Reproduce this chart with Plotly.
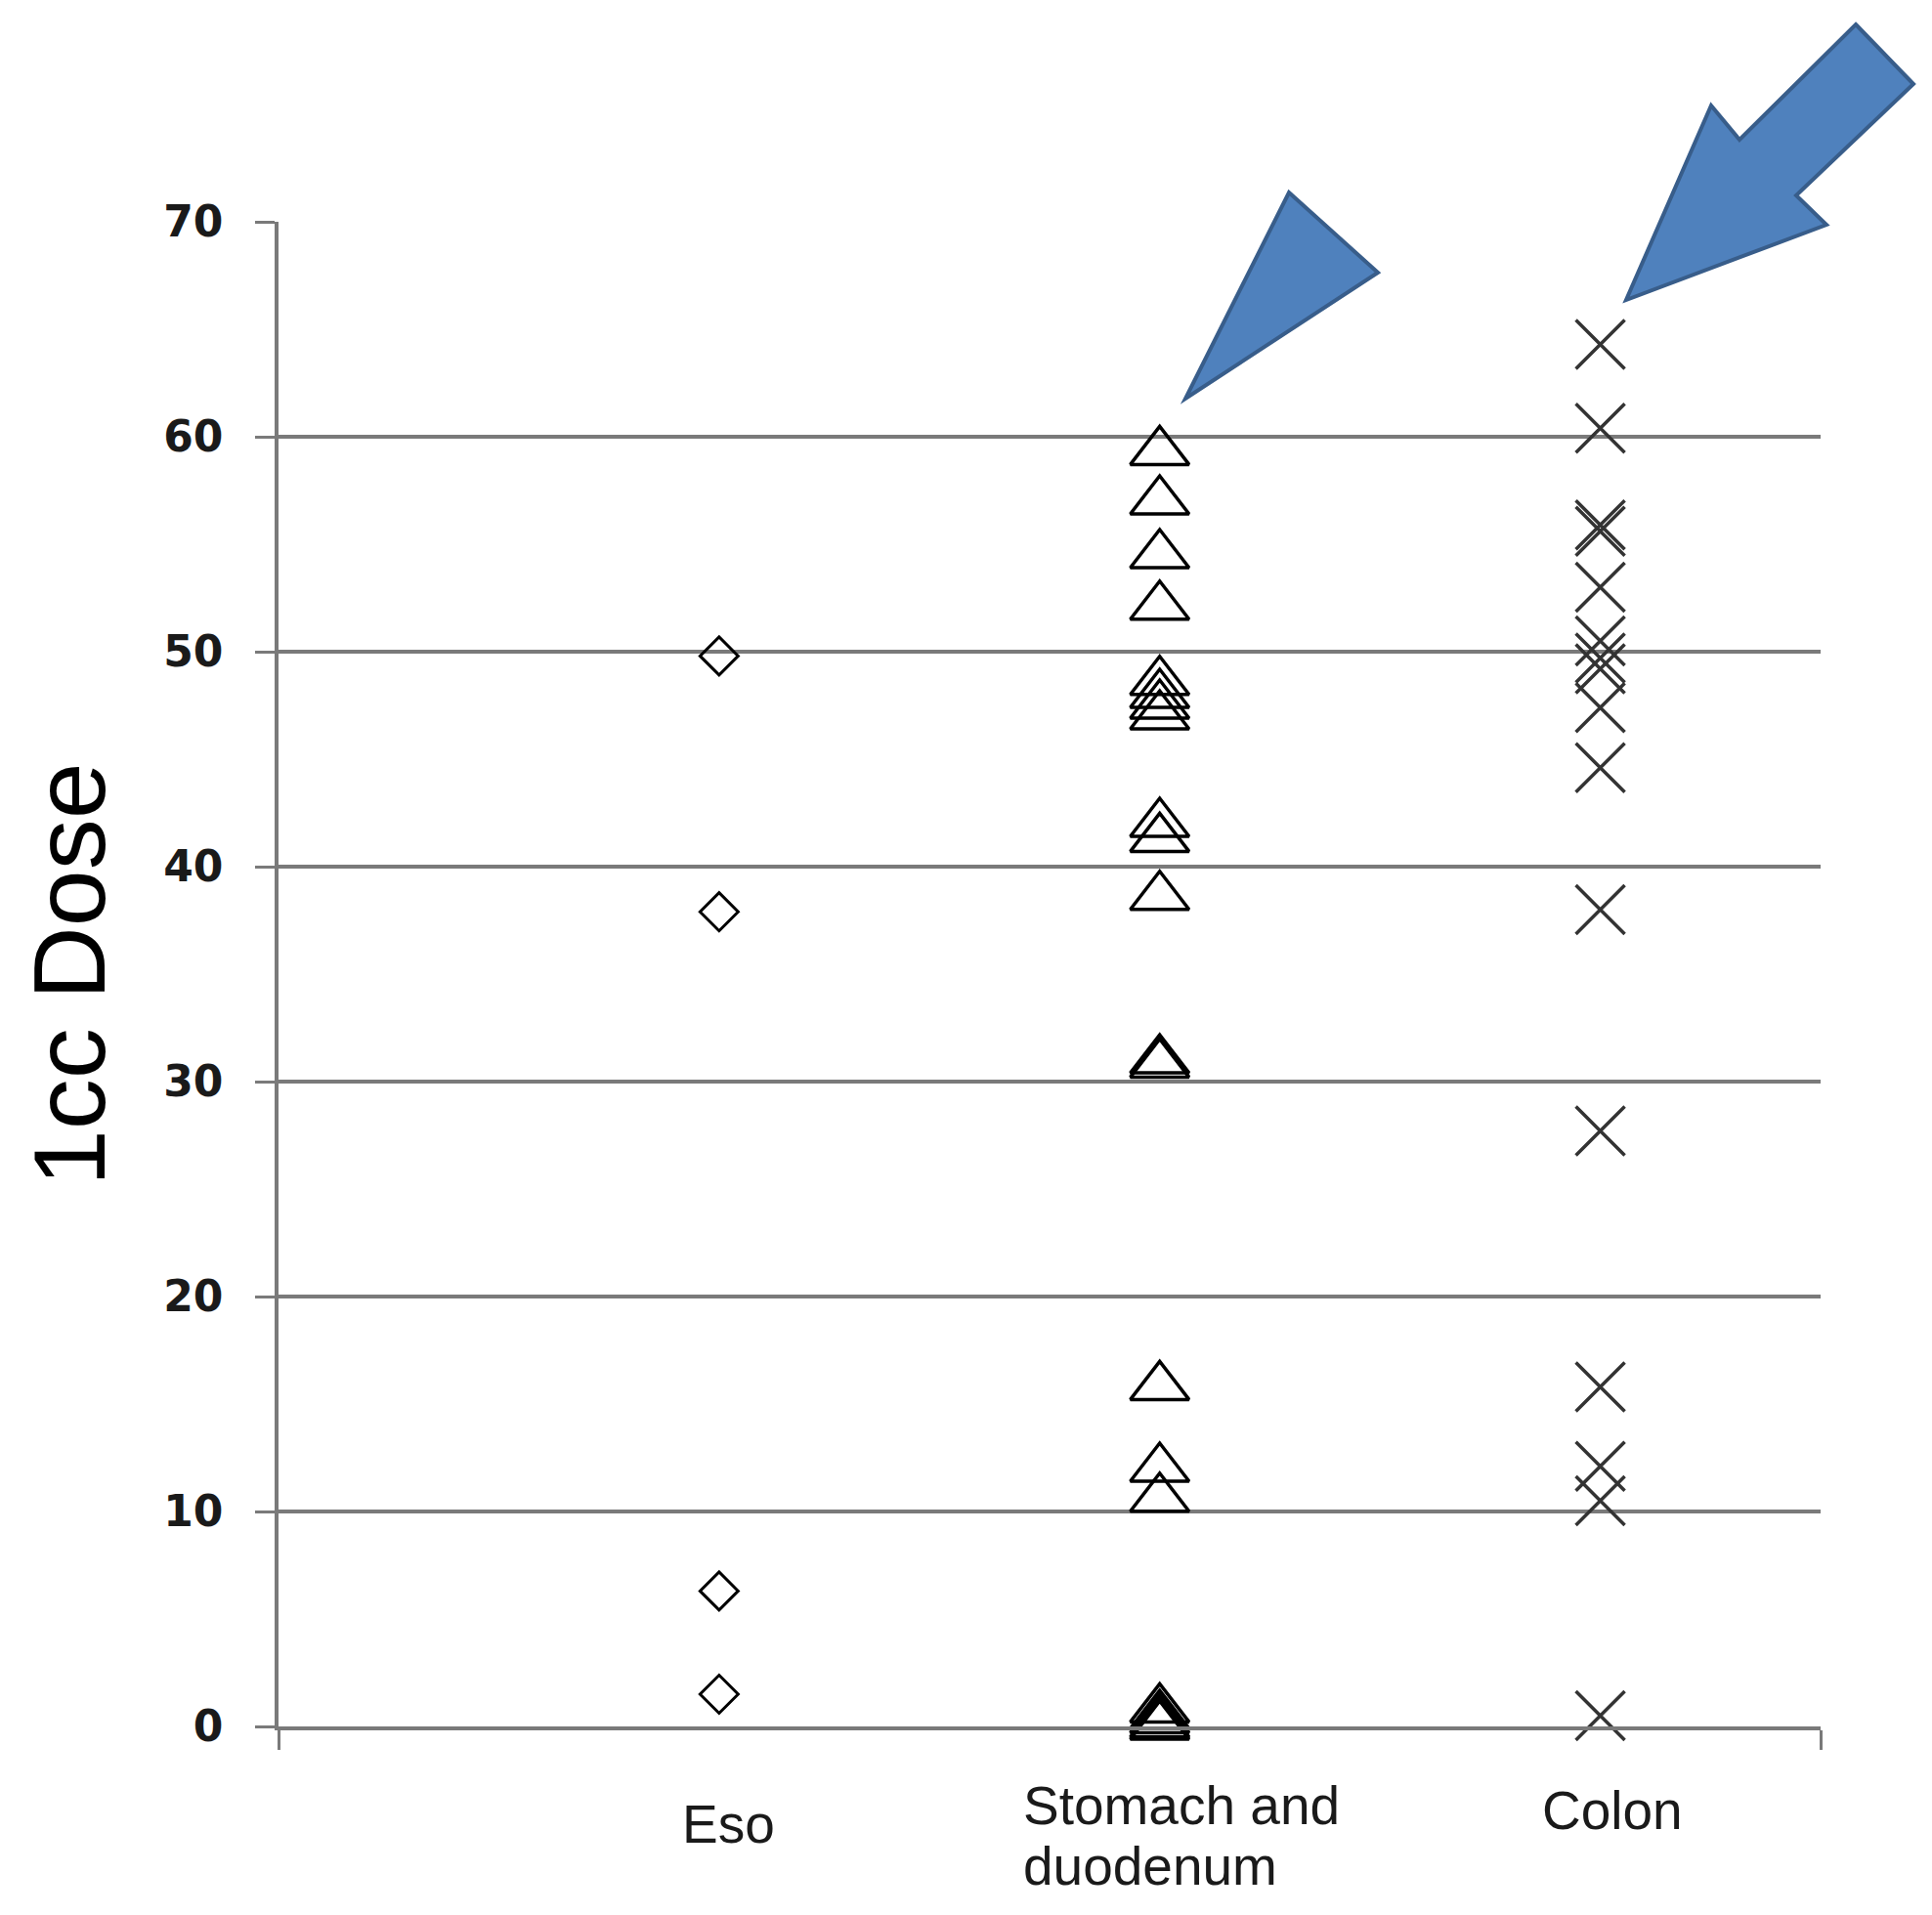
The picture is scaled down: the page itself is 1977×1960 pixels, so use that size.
import plotly.graph_objects as go

# ---- data ----
categories = ["Eso", "Stomach and duodenum", "Colon"]
cat_pos = [1, 2, 3]

eso_vals = [49.8, 37.9, 6.3, 1.5]
stomach_vals = [59.3, 57.0, 54.5, 52.1, 48.6, 48.0, 47.5, 47.0, 42.0, 41.3,
                38.6, 31.0, 30.8, 15.8, 12.0, 10.6, 0.8, 0.5, 0.3, 0.1, 0.0]
colon_vals = [64.3, 60.4, 55.9, 55.6, 53.0, 50.5, 49.7, 49.2, 47.4, 44.6,
              38.0, 27.7, 15.8, 12.1, 10.5, 0.5]

y_ticks = [0, 10, 20, 30, 40, 50, 60, 70]
y_title = "1cc Dose"

# ---- figure geometry ----
W, H = 1977, 1960
L, R, T, B = 285, 114, 227, 193
PW, PH = W - L - R, H - T - B


def to_paper(pts):
    return [((x - L) / PW, (H - B - y) / PH) for x, y in pts]


def path_from(pts):
    pp = to_paper(pts)
    s = "M {:.5f} {:.5f}".format(*pp[0])
    for p in pp[1:]:
        s += " L {:.5f} {:.5f}".format(*p)
    return s + " Z"


fig = go.Figure()

fig.add_trace(go.Scatter(
    x=[cat_pos[0]] * len(eso_vals), y=eso_vals, mode="markers",
    marker=dict(symbol="diamond-open", size=30, color="black",
                line=dict(color="black", width=3)),
    cliponaxis=False, name=categories[0]))
fig.add_trace(go.Scatter(
    x=[cat_pos[1]] * len(stomach_vals), y=stomach_vals, mode="markers",
    marker=dict(symbol="triangle-up-open", size=52, color="black",
                line=dict(color="black", width=3.5)),
    cliponaxis=False, name=categories[1]))
fig.add_trace(go.Scatter(
    x=[cat_pos[2]] * len(colon_vals), y=colon_vals, mode="markers",
    marker=dict(symbol="x-thin", size=50, color="#333333",
                line=dict(color="#333333", width=3.5)),
    cliponaxis=False, name=categories[2]))

grid_col = "#7a7a7a"
fig.update_layout(
    width=W, height=H,
    margin=dict(l=L, r=R, t=T, b=B, pad=0),
    paper_bgcolor="white", plot_bgcolor="white",
    showlegend=False,
    xaxis=dict(range=[0, 3.5], showgrid=False, zeroline=False,
               showline=True, linecolor=grid_col, linewidth=3.5,
               tickvals=[0, 3.5], ticktext=["", ""], ticks="outside",
               ticklen=20, tickwidth=3, tickcolor=grid_col),
    yaxis=dict(range=[0, 70], tickvals=y_ticks, showgrid=True,
               gridcolor=grid_col, gridwidth=3.5, zeroline=False,
               showline=True, linecolor=grid_col, linewidth=3.5,
               ticks="outside", ticklen=20, tickwidth=3, tickcolor=grid_col,
               ticklabelstandoff=24,
               tickfont=dict(family="DejaVu Sans", size=44, color="#1a1a1a",
                             weight="bold")),
)

# y title
fig.add_annotation(text=y_title, textangle=-90, xref="paper", yref="paper",
                   x=(71 - L) / PW, y=0.5, xanchor="center", yanchor="middle",
                   showarrow=False,
                   font=dict(family="Liberation Sans", size=104, color="black"))

# category labels
lab_font = dict(family="Liberation Sans", size=55, color="#1a1a1a")
fig.add_annotation(text=categories[0], xref="paper", yref="paper",
                   x=(745 - L) / PW, y=(H - B - 1867) / PH,
                   xanchor="center", yanchor="middle", showarrow=False,
                   font=lab_font)
fig.add_annotation(text="Stomach and", xref="paper", yref="paper",
                   x=(1045 - L) / PW, y=(H - B - 1848) / PH,
                   xanchor="left", yanchor="middle", showarrow=False,
                   font=lab_font)
fig.add_annotation(text="duodenum", xref="paper", yref="paper",
                   x=(1045 - L) / PW, y=(H - B - 1910) / PH,
                   xanchor="left", yanchor="middle", showarrow=False,
                   font=lab_font)
fig.add_annotation(text=categories[2], xref="paper", yref="paper",
                   x=(1650 - L) / PW, y=(H - B - 1853) / PH,
                   xanchor="center", yanchor="middle", showarrow=False,
                   font=lab_font)

# blue arrows (decorative callouts)
arrow_fill = "#4F81BD"
arrow_line = "#385D8A"
left_arrow = [(1319, 197), (1410, 279), (1213, 408)]
right_arrow = [(1899, 25), (1958, 86), (1838, 200), (1869, 230),
               (1664, 307), (1751, 108), (1780, 143)]
for pts in (left_arrow, right_arrow):
    fig.add_shape(type="path", xref="paper", yref="paper",
                  path=path_from(pts), fillcolor=arrow_fill,
                  line=dict(color=arrow_line, width=4), layer="above")

fig.write_html("out.html", config={"displayModeBar": False},
               post_script="document.body.style.margin='0';document.body.style.overflow='hidden';")
